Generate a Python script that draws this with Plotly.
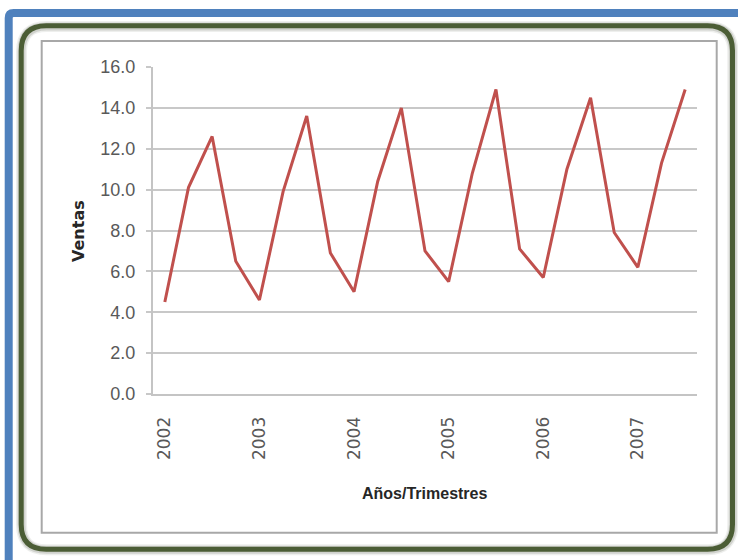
import plotly.graph_objects as go

# Ventas trimestrales
anos = [2002, 2003, 2004, 2005, 2006, 2007]
trimestres = ["T1", "T2", "T3", "T4"]
ventas = [4.5, 10.1, 12.6, 6.5,
          4.6, 9.9, 13.6, 6.9,
          5.0, 10.4, 14.0, 7.0,
          5.5, 10.8, 14.9, 7.1,
          5.7, 11.0, 14.5, 7.9,
          6.2, 11.3, 14.9]

periodos = [f"{a}-{t}" for a in anos for t in trimestres][:len(ventas)]
marcas = [f"{a}-T1" for a in anos]
etiquetas = [str(a) for a in anos]

W, H = 738, 560
L, R, T, B = 153, 41, 67, 166
PW, PH = W - L - R, H - T - B


def px(x):
    return (x - L) / PW


def py(y):
    return (H - B - y) / PH


def rounded_rect(x0, y0, x1, y1, r):
    """SVG path (paper units) of a rectangle with rounded corners, given in pixels."""
    pts = [
        f"M {px(x0 + r)},{py(y0)}",
        f"L {px(x1 - r)},{py(y0)}",
        f"Q {px(x1)},{py(y0)} {px(x1)},{py(y0 + r)}",
        f"L {px(x1)},{py(y1 - r)}",
        f"Q {px(x1)},{py(y1)} {px(x1 - r)},{py(y1)}",
        f"L {px(x0 + r)},{py(y1)}",
        f"Q {px(x0)},{py(y1)} {px(x0)},{py(y1 - r)}",
        f"L {px(x0)},{py(y0 + r)}",
        f"Q {px(x0)},{py(y0)} {px(x0 + r)},{py(y0)}",
        "Z",
    ]
    return " ".join(pts)


fig = go.Figure()
fig.add_trace(go.Scatter(
    x=periodos, y=ventas, mode="lines",
    line=dict(color="#c0504d", width=3),
    hoverinfo="x+y", showlegend=False,
))

shapes = []
# blue outer frame
shapes.append(dict(type="path", xref="paper", yref="paper", layer="below",
                   path=rounded_rect(8.7, 13, 760, 600, 5),
                   line=dict(color="#4f81bd", width=8)))
# soft shadow + dark green rounded border
for w, op in [(11, 0.08), (8, 0.15)]:
    shapes.append(dict(type="path", xref="paper", yref="paper", layer="below",
                       path=rounded_rect(21.5, 26.5, 732.8, 549.8, 25),
                       line=dict(color=f"rgba(40,50,30,{op})", width=w)))
shapes.append(dict(type="path", xref="paper", yref="paper", layer="below",
                   path=rounded_rect(21.2, 25.7, 732.5, 549.2, 25),
                   line=dict(color="#4b5d35", width=5)))
# inner chart-area border
shapes.append(dict(type="rect", xref="paper", yref="paper", layer="below",
                   x0=px(41.7), x1=px(716.7), y0=py(532.7), y1=py(41),
                   line=dict(color="#a8a8a8", width=2)))

annotations = [
    dict(text="<b>Ventas</b>", xref="paper", yref="paper", x=px(79), y=py(231),
         showarrow=False, textangle=-90, xanchor="center", yanchor="middle",
         font=dict(family="DejaVu Sans", size=16, color="#262626")),
    dict(text="<b>Años/Trimestres</b>", xref="paper", yref="paper", x=px(424), y=py(493),
         showarrow=False, xanchor="center", yanchor="middle",
         font=dict(family="Liberation Sans", size=16, color="#262626")),
]

fig.update_layout(
    width=W, height=H,
    margin=dict(l=L, r=R, t=T, b=B),
    paper_bgcolor="white", plot_bgcolor="white",
    shapes=shapes, annotations=annotations,
    xaxis=dict(
        type="category", categoryorder="array", categoryarray=periodos,
        range=[-0.5, len(periodos) - 0.5],
        tickmode="array", tickvals=marcas, ticktext=etiquetas,
        tickangle=-90, ticks="", showgrid=False, zeroline=False,
        showline=True, linecolor="#c4c4c4", linewidth=2,
        ticklabelstandoff=14,
        tickfont=dict(family="DejaVu Sans", size=17, color="#595959"),
    ),
    yaxis=dict(
        range=[0, 16], dtick=2, tickformat=".1f",
        showgrid=True, gridcolor="#c8c8c8", gridwidth=2,
        zeroline=False, showline=True, linecolor="#c4c4c4", linewidth=2,
        ticks="outside", ticklen=5, tickwidth=2, tickcolor="#c8c8c8",
        ticklabelstandoff=7,
        tickfont=dict(family="Liberation Sans", size=18, color="#595959"),
    ),
)

fig.write_html("out.html")
